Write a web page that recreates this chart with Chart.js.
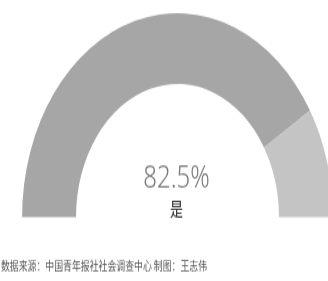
<!DOCTYPE html>
<html>
<head>
<meta charset="utf-8">
<script src="https://cdn.jsdelivr.net/npm/chart.js@4/dist/chart.umd.min.js"></script>
<style>
  html, body { margin: 0; padding: 0; background: #fff; overflow: hidden; width: 328px; height: 281px; }
  /* the source graphic is stretched vertically, so we stretch the whole canvas */
  #wrap { position: absolute; left: 0; top: 0; transform-origin: 0 0; transform: scaleY(1.312); }
  #gauge { display: block; }
</style>
</head>
<body>
<div id="wrap"><canvas id="gauge" width="340" height="214"></canvas></div>
<script>
const labels = ['是', '否'];
const shares = [82.5, 17.5];
const colors = ['#a6a6a6', '#c4c4c4'];
const centerValue = '82.5%';
const centerLabel = '是';
const footer = '数据来源：中国青年报社社会调查中心 制图：王志伟';

const gaugeText = {
  id: 'gaugeText',
  afterDraw(chart) {
    const ctx = chart.ctx;
    const arc = chart.getDatasetMeta(0).data[0];
    const cx = arc.x;
    ctx.save();
    ctx.textAlign = 'center';
    ctx.textBaseline = 'alphabetic';
    ctx.fillStyle = '#787878';
    ctx.font = '300 24px "Noto Sans", sans-serif';
    ctx.fillText(centerValue, cx - 1, 143.3);
    ctx.fillStyle = '#3a3a3a';
    ctx.font = '500 13px "Noto Sans CJK SC", sans-serif';
    ctx.textBaseline = 'middle';
    ctx.fillText(centerLabel, cx - 1, 159);
    ctx.textAlign = 'left';
    ctx.fillStyle = '#555';
    ctx.font = '8.9px "Noto Sans CJK SC", sans-serif';
    ctx.fillText(footer, 1, 202.7);
    ctx.restore();
  }
};

new Chart(document.getElementById('gauge'), {
  type: 'doughnut',
  data: {
    labels: labels,
    datasets: [{
      data: shares,
      backgroundColor: colors,
      borderWidth: 0,
      hoverOffset: 0,
    }],
  },
  options: {
    responsive: false,
    animation: false,
    rotation: -90,
    circumference: 180,
    cutout: '65.3%',
    layout: { padding: { left: 22, right: 7, top: 10, bottom: 48.6 } },
    plugins: {
      legend: { display: false },
      tooltip: { enabled: false },
    },
  },
  plugins: [gaugeText],
});
</script>
</body>
</html>
